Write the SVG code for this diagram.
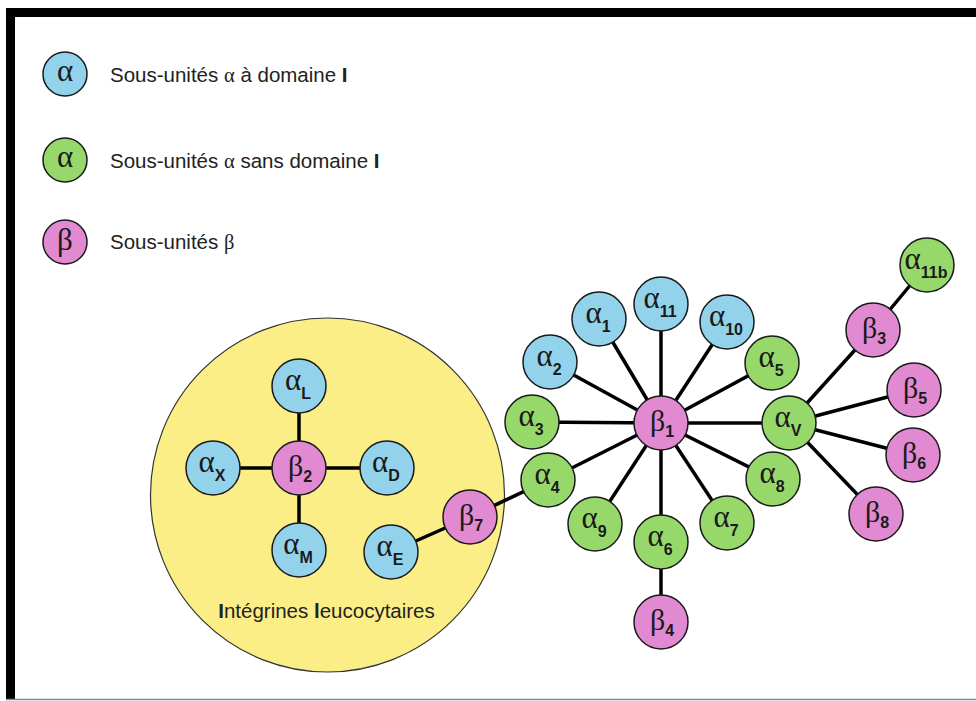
<svg xmlns="http://www.w3.org/2000/svg" width="976" height="701" viewBox="0 0 976 701">
<style>
.bg{fill:#ffffff}
.frame{fill:#000000}
.edge{stroke:#000000;stroke-width:3.5;fill:none}
.n{stroke:#1a1a1a;stroke-width:1.5}
.a1{fill:#92d2ea}
.a0{fill:#97d86b}
.b{fill:#e18ad1}
.zone{fill:#fbee87;stroke:#333333;stroke-width:1.2}
.g{font-family:"Liberation Serif","Times New Roman",serif;font-size:31px;fill:#1a1a1a}
.gb{font-family:"Liberation Serif","Times New Roman",serif;font-size:30px;fill:#1a1a1a}
.s{font-family:"Liberation Sans",Arial,sans-serif;font-weight:bold;font-size:16px}
.leg{font-family:"Liberation Sans",Arial,sans-serif;font-size:20.5px;fill:#222222}
.lg{font-family:"Liberation Serif","Times New Roman",serif}
.bold{font-weight:bold}
</style>
<rect class="bg" x="0" y="0" width="976" height="701"/>
<rect class="frame" x="6" y="8" width="970" height="9"/>
<rect class="frame" x="6" y="8" width="9" height="692"/>
<line x1="6" y1="699.5" x2="976" y2="699.5" stroke="#888888" stroke-width="1.5"/>

<g id="legend">
  <g id="legend-alpha-I">
    <circle class="n a1" cx="65" cy="74" r="22"/>
    <text class="g" x="65" y="81" text-anchor="middle" font-size="24">α</text>
    <text class="leg" x="110" y="81.5">Sous-unités <tspan class="lg">α</tspan> à domaine <tspan class="bold">I</tspan></text>
  </g>
  <g id="legend-alpha-noI">
    <circle class="n a0" cx="65" cy="160" r="22"/>
    <text class="g" x="65" y="167" text-anchor="middle" font-size="24">α</text>
    <text class="leg" x="110" y="167.5">Sous-unités <tspan class="lg">α</tspan> sans domaine <tspan class="bold">I</tspan></text>
  </g>
  <g id="legend-beta">
    <circle class="n b" cx="65" cy="242" r="22"/>
    <text class="g" x="65" y="250" text-anchor="middle" font-size="24">β</text>
    <text class="leg" x="110" y="249">Sous-unités <tspan class="lg">β</tspan></text>
  </g>
</g>

<g id="leukocyte-zone">
  <circle class="zone" cx="327.5" cy="495" r="177"/>
  <text class="leg" x="326.5" y="618" text-anchor="middle" font-size="20"><tspan class="bold">I</tspan>ntégrines <tspan class="bold">l</tspan>eucocytaires</text>
</g>

<g id="connectors">
  <line class="edge" x1="299" y1="468" x2="299" y2="386"/>
  <line class="edge" x1="299" y1="468" x2="213" y2="468"/>
  <line class="edge" x1="299" y1="468" x2="387" y2="468"/>
  <line class="edge" x1="299" y1="468" x2="299" y2="550"/>
  <line class="edge" x1="391" y1="552" x2="470" y2="517"/>
  <line class="edge" x1="470" y1="517" x2="548" y2="480"/>
  <line class="edge" x1="661" y1="423" x2="661" y2="304"/>
  <line class="edge" x1="661" y1="423" x2="599" y2="319"/>
  <line class="edge" x1="661" y1="423" x2="727" y2="322"/>
  <line class="edge" x1="661" y1="423" x2="550" y2="362"/>
  <line class="edge" x1="661" y1="423" x2="532" y2="422"/>
  <line class="edge" x1="661" y1="423" x2="548" y2="480"/>
  <line class="edge" x1="661" y1="423" x2="595" y2="524"/>
  <line class="edge" x1="661" y1="423" x2="661" y2="542"/>
  <line class="edge" x1="661" y1="423" x2="727" y2="523"/>
  <line class="edge" x1="661" y1="423" x2="773" y2="479"/>
  <line class="edge" x1="661" y1="423" x2="772" y2="363"/>
  <line class="edge" x1="661" y1="423" x2="789" y2="423"/>
  <line class="edge" x1="661" y1="542" x2="661" y2="622"/>
  <line class="edge" x1="789" y1="423" x2="873" y2="330"/>
  <line class="edge" x1="789" y1="423" x2="914" y2="390"/>
  <line class="edge" x1="789" y1="423" x2="913" y2="455"/>
  <line class="edge" x1="789" y1="423" x2="876" y2="514"/>
  <line class="edge" x1="873" y1="330" x2="927" y2="265"/>
</g>

<g id="beta2"><circle class="n b" cx="299" cy="468" r="27"/><text class="gb" x="300" y="476" text-anchor="middle">β<tspan class="s" dy="6">2</tspan></text></g>
<g id="alphaL"><circle class="n a1" cx="299" cy="386" r="27"/><text class="g" x="298" y="390" text-anchor="middle">α<tspan class="s" dy="9">L</tspan></text></g>
<g id="alphaX"><circle class="n a1" cx="213" cy="468" r="27"/><text class="g" x="212" y="472" text-anchor="middle">α<tspan class="s" dy="9">X</tspan></text></g>
<g id="alphaD"><circle class="n a1" cx="387" cy="468" r="27"/><text class="g" x="386" y="472" text-anchor="middle">α<tspan class="s" dy="9">D</tspan></text></g>
<g id="alphaM"><circle class="n a1" cx="299" cy="550" r="27"/><text class="g" x="298" y="554" text-anchor="middle">α<tspan class="s" dy="9">M</tspan></text></g>
<g id="alphaE"><circle class="n a1" cx="391" cy="552" r="27"/><text class="g" x="390" y="556" text-anchor="middle">α<tspan class="s" dy="9">E</tspan></text></g>
<g id="beta7"><circle class="n b" cx="470" cy="517" r="27"/><text class="gb" x="471" y="525" text-anchor="middle">β<tspan class="s" dy="6">7</tspan></text></g>

<g id="beta1"><circle class="n b" cx="661" cy="423" r="27"/><text class="gb" x="662" y="431" text-anchor="middle">β<tspan class="s" dy="6">1</tspan></text></g>
<g id="alpha11"><circle class="n a1" cx="661" cy="304" r="27"/><text class="g" x="660" y="308" text-anchor="middle">α<tspan class="s" dy="9">11</tspan></text></g>
<g id="alpha1"><circle class="n a1" cx="599" cy="319" r="27"/><text class="g" x="598" y="323" text-anchor="middle">α<tspan class="s" dy="9">1</tspan></text></g>
<g id="alpha10"><circle class="n a1" cx="727" cy="322" r="27"/><text class="g" x="726" y="326" text-anchor="middle">α<tspan class="s" dy="9">10</tspan></text></g>
<g id="alpha2"><circle class="n a1" cx="550" cy="362" r="27"/><text class="g" x="549" y="366" text-anchor="middle">α<tspan class="s" dy="9">2</tspan></text></g>
<g id="alpha3"><circle class="n a0" cx="532" cy="422" r="27"/><text class="g" x="531" y="426" text-anchor="middle">α<tspan class="s" dy="9">3</tspan></text></g>
<g id="alpha4"><circle class="n a0" cx="548" cy="480" r="27"/><text class="g" x="547" y="484" text-anchor="middle">α<tspan class="s" dy="9">4</tspan></text></g>
<g id="alpha9"><circle class="n a0" cx="595" cy="524" r="27"/><text class="g" x="594" y="528" text-anchor="middle">α<tspan class="s" dy="9">9</tspan></text></g>
<g id="alpha6"><circle class="n a0" cx="661" cy="542" r="27"/><text class="g" x="660" y="546" text-anchor="middle">α<tspan class="s" dy="9">6</tspan></text></g>
<g id="alpha7"><circle class="n a0" cx="727" cy="523" r="27"/><text class="g" x="726" y="527" text-anchor="middle">α<tspan class="s" dy="9">7</tspan></text></g>
<g id="alpha8"><circle class="n a0" cx="773" cy="479" r="27"/><text class="g" x="772" y="483" text-anchor="middle">α<tspan class="s" dy="9">8</tspan></text></g>
<g id="alpha5"><circle class="n a0" cx="772" cy="363" r="27"/><text class="g" x="771" y="367" text-anchor="middle">α<tspan class="s" dy="9">5</tspan></text></g>
<g id="beta4"><circle class="n b" cx="661" cy="622" r="27"/><text class="gb" x="662" y="630" text-anchor="middle">β<tspan class="s" dy="6">4</tspan></text></g>

<g id="alphaV"><circle class="n a0" cx="789" cy="423" r="27"/><text class="g" x="788" y="427" text-anchor="middle">α<tspan class="s" dy="9">V</tspan></text></g>
<g id="beta3"><circle class="n b" cx="873" cy="330" r="27"/><text class="gb" x="874" y="338" text-anchor="middle">β<tspan class="s" dy="6">3</tspan></text></g>
<g id="beta5"><circle class="n b" cx="914" cy="390" r="27"/><text class="gb" x="915" y="398" text-anchor="middle">β<tspan class="s" dy="6">5</tspan></text></g>
<g id="beta6"><circle class="n b" cx="913" cy="455" r="27"/><text class="gb" x="914" y="463" text-anchor="middle">β<tspan class="s" dy="6">6</tspan></text></g>
<g id="beta8"><circle class="n b" cx="876" cy="514" r="27"/><text class="gb" x="877" y="522" text-anchor="middle">β<tspan class="s" dy="6">8</tspan></text></g>
<g id="alpha11b"><circle class="n a0" cx="927" cy="265" r="27"/><text class="g" x="926" y="269" text-anchor="middle">α<tspan class="s" dy="9">11b</tspan></text></g>
</svg>
